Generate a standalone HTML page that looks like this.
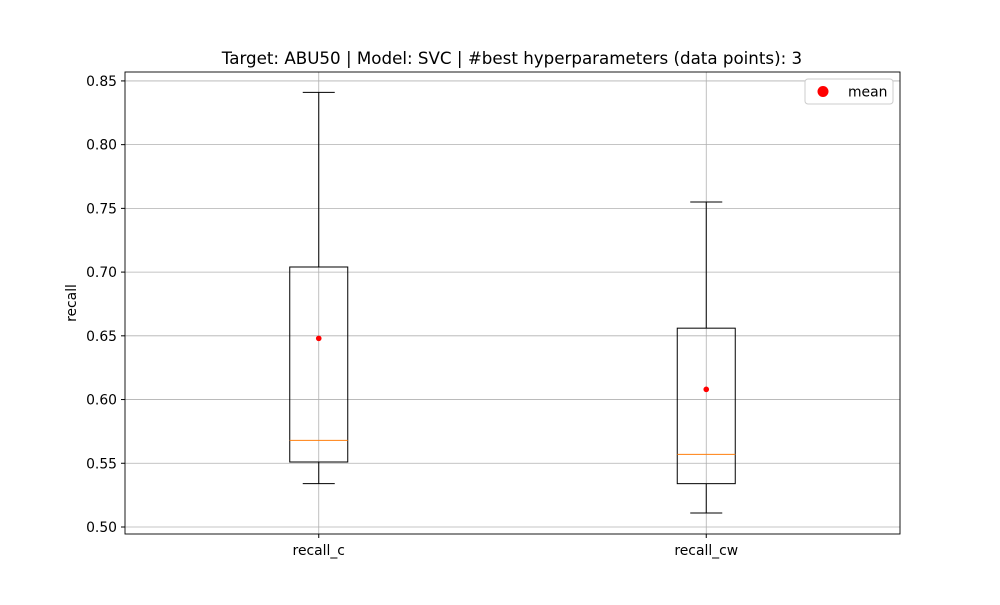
<!DOCTYPE html>
<html><head><meta charset="utf-8"><style>
body{margin:0;background:#fff;}
svg{font-family:"DejaVu Sans","Liberation Sans",sans-serif;}
</style></head><body>
<svg id="chart" width="1000" height="600">
<rect width="1000" height="600" fill="#fff"/>
<text x="512" y="64" text-anchor="middle" font-size="16.7">Target: ABU50 | Model: SVC | #best hyperparameters (data points): 3</text>
<g id="grid"></g><g id="marks"></g><g id="axes"></g>
<text transform="translate(76,303) rotate(-90)" text-anchor="middle" font-size="13.9">recall</text>
<g>
<rect x="805" y="79" width="88" height="25" fill="#fff" stroke="#ccc" rx="3"/>
<circle cx="823" cy="91.5" r="5.5" fill="red"/>
<text x="848" y="96.5" font-size="13.9">mean</text>
</g>
</svg>
<script>
const categories=["recall_c","recall_cw"];
const whiskerLow=[0.534,0.511];
const q1=[0.551,0.534];
const medians=[0.568,0.557];
const q3=[0.704,0.656];
const whiskerHigh=[0.841,0.755];
const means=[0.648,0.608];
const yTicks=[0.50,0.55,0.60,0.65,0.70,0.75,0.80,0.85];
const L=125,R=900,T=72,B=534,yMin=0.4945,yMax=0.857;
const y=v=>B-(v-yMin)/(yMax-yMin)*(B-T);
const x=i=>L+(R-L)*(i+0.5)/categories.length;
const NS="http://www.w3.org/2000/svg";
function mk(p,t,a){const e=document.createElementNS(NS,t);for(const k in a)e.setAttribute(k,a[k]);p.appendChild(e);return e;}
const grid=document.getElementById('grid'),marks=document.getElementById('marks'),axes=document.getElementById('axes');
yTicks.forEach(v=>{
 const g=mk(grid,'line',{x1:L,x2:R,y1:y(v),y2:y(v),stroke:'#b0b0b0','stroke-width':0.8});
 
 
 mk(axes,'line',{x1:L-4,x2:L,y1:y(v),y2:y(v),stroke:'#000'});
 const t=mk(axes,'text',{x:L-8,y:y(v)+5,'text-anchor':'end','font-size':13.9});
 t.textContent=v.toFixed(2);
 
 
});
categories.forEach((c,i)=>{
 const cx=x(i);
 const g=mk(grid,'line',{x1:cx,x2:cx,y1:T,y2:B,stroke:'#b0b0b0','stroke-width':0.8});
 
 
 const grp=mk(marks,'g',{});
 
 
 const hw=29,cw=16;
 mk(grp,'line',{x1:cx,x2:cx,y1:y(q3[i]),y2:y(whiskerHigh[i]),stroke:'#000'});
 mk(grp,'line',{x1:cx,x2:cx,y1:y(q1[i]),y2:y(whiskerLow[i]),stroke:'#000'});
 mk(grp,'line',{x1:cx-cw,x2:cx+cw,y1:y(whiskerHigh[i]),y2:y(whiskerHigh[i]),stroke:'#000'});
 mk(grp,'line',{x1:cx-cw,x2:cx+cw,y1:y(whiskerLow[i]),y2:y(whiskerLow[i]),stroke:'#000'});
 mk(grp,'rect',{x:cx-hw,y:y(q3[i]),width:2*hw,height:y(q1[i])-y(q3[i]),fill:'none',stroke:'#000'});
 mk(grp,'line',{x1:cx-hw,x2:cx+hw,y1:y(medians[i]),y2:y(medians[i]),stroke:'#ff7f0e'});
 const m=mk(grp,'circle',{cx:cx,cy:y(means[i]),r:2.8,fill:'red'});
 
 
 mk(axes,'line',{x1:cx,x2:cx,y1:B,y2:B+4,stroke:'#000'});
 const t=mk(axes,'text',{x:cx,y:B+21,'text-anchor':'middle','font-size':13.9});
 t.textContent=c;
 
 
});
const f=mk(axes,'rect',{x:L,y:T,width:R-L,height:B-T,fill:'none',stroke:'#000','stroke-width':0.9});


</script>
</body></html>
